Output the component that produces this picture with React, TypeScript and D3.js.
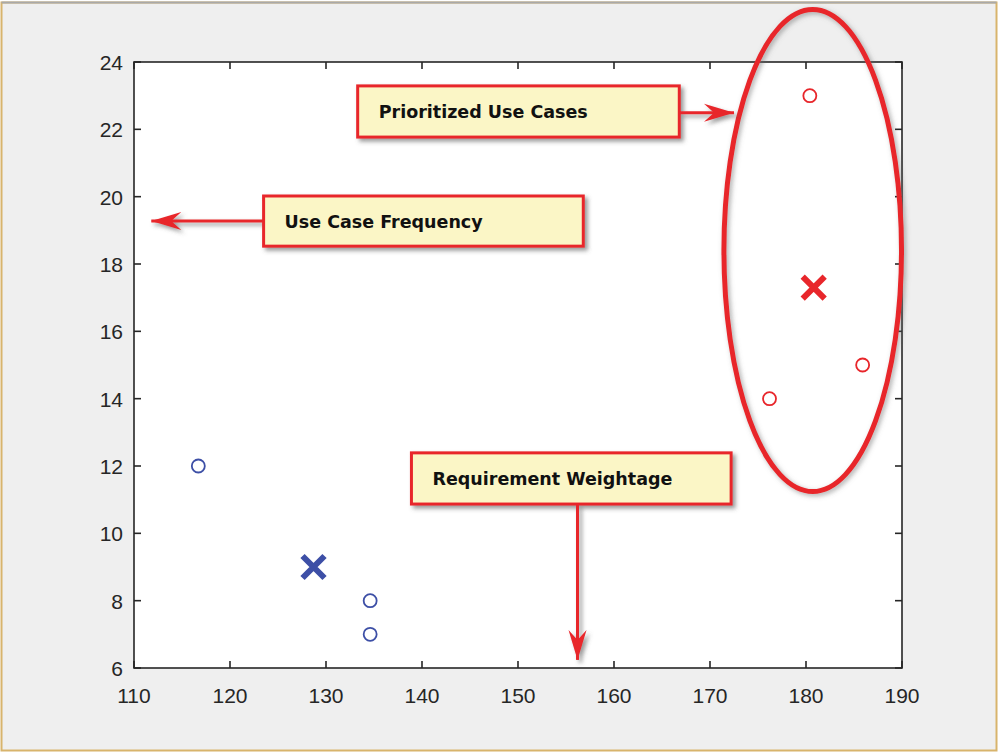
import React from 'react';
import * as d3 from 'd3';

// cluster members (x = requirement weightage, y = use case frequency)
const groupAX = [116.7, 134.6, 134.6];
const groupAY = [12, 8, 7];
const groupBX = [176.2, 180.4, 185.9];
const groupBY = [14, 23, 15];
// cluster centroids
const centroidX = [128.7, 180.8];
const centroidY = [9, 17.3];
const centroidColor = ['#3d4fa6', '#e8262b'];

const xTicks = [110, 120, 130, 140, 150, 160, 170, 180, 190];
const yTicks = [6, 8, 10, 12, 14, 16, 18, 20, 22, 24];

// callout boxes, in data units: [x0, x1, yTop, yBottom]
const callouts = [
  { text: 'Prioritized Use Cases', box: [133.3, 166.8, 23.29, 21.77], arrow: [166.8, 22.49, 172.5, 22.49] },
  { text: 'Use Case Frequency', box: [123.5, 156.8, 20.02, 18.53], arrow: [123.5, 19.28, 111.8, 19.28] },
  { text: 'Requirement Weightage', box: [138.9, 172.2, 12.39, 10.87], arrow: [156.2, 10.87, 156.2, 6.24] },
];
// highlight ellipse: cx, cy, rx, ry (data units)
const ring = [180.7, 18.4, 9.25, 7.16];

const W = 1001, H = 755;
const margin = { top: 62, right: 99, bottom: 87, left: 134 };

export default function App() {
  const x = d3.scaleLinear().domain([110, 190]).range([margin.left, W - margin.right]);
  const y = d3.scaleLinear().domain([6, 24]).range([H - margin.bottom, margin.top]);
  const [x0, x1] = x.range();
  const [yb, yt] = y.range();
  const red = '#e8262b';
  const blue = '#3d4fa6';
  const tickLen = 7;

  const arrowHead = (tx: number, ty: number, fx: number, fy: number) => {
    const a = Math.atan2(ty - fy, tx - fx);
    const L = 30, hw = 9, notch = 20;
    const pt = (d: number, s: number) => [tx - d * Math.cos(a) - s * Math.sin(a), ty - d * Math.sin(a) + s * Math.cos(a)];
    const p = [[tx, ty], pt(L, hw), pt(notch, 0), pt(L, -hw)];
    return 'M' + p.map(q => q.join(',')).join('L') + 'Z';
  };

  const xMark = (cx: number, cy: number, r: number) => `M${cx - r},${cy - r}L${cx + r},${cy + r}M${cx - r},${cy + r}L${cx + r},${cy - r}`;

  return (
    <svg width={W} height={H} style={{ position: 'absolute', left: 0, top: 0 }} fontFamily="'Liberation Sans', Arial, sans-serif">
      <defs>
        <filter id="shadow" x="-20%" y="-20%" width="140%" height="140%">
          <feDropShadow dx="3" dy="3" stdDeviation="2" floodColor="#555" floodOpacity="0.6" />
        </filter>
        <filter id="glow" x="-20%" y="-20%" width="140%" height="140%">
          <feDropShadow dx="2" dy="2" stdDeviation="2.5" floodColor="#666" floodOpacity="0.55" />
        </filter>
      </defs>
      <rect x={0} y={0} width={W} height={H} fill="#fff" />
      <rect x={1.5} y={2.5} width={995} height={748} fill="#efefef" stroke="#d8b46c" strokeWidth={2} />
      <line x1={1.5} x2={996.5} y1={2.5} y2={2.5} stroke="#a9a9a9" strokeWidth={2} />

      {/* axes box */}
      <rect x={x0} y={yt} width={x1 - x0} height={yb - yt} fill="#fff" stroke="#262626" strokeWidth={1.6} />
      {xTicks.map(t => (
        <g key={'x' + t}>
          <line x1={x(t)} x2={x(t)} y1={yb} y2={yb - tickLen} stroke="#262626" strokeWidth={1.6} />
          <line x1={x(t)} x2={x(t)} y1={yt} y2={yt + tickLen} stroke="#262626" strokeWidth={1.6} />
          <text x={x(t)} y={yb + 35} textAnchor="middle" fontSize={21} fill="#262626">{t}</text>
        </g>
      ))}
      {yTicks.map(t => (
        <g key={'y' + t}>
          <line x1={x0} x2={x0 + tickLen} y1={y(t)} y2={y(t)} stroke="#262626" strokeWidth={1.6} />
          <line x1={x1} x2={x1 - tickLen} y1={y(t)} y2={y(t)} stroke="#262626" strokeWidth={1.6} />
          <text x={x0 - 11} y={y(t) + 8} textAnchor="end" fontSize={21} fill="#262626">{t}</text>
        </g>
      ))}

      {/* members */}
      {groupAX.map((v, i) => (
        <circle key={'a' + i} cx={x(v)} cy={y(groupAY[i])} r={6.5} fill="none" stroke={blue} strokeWidth={1.8} />
      ))}
      {groupBX.map((v, i) => (
        <circle key={'b' + i} cx={x(v)} cy={y(groupBY[i])} r={6.5} fill="none" stroke={red} strokeWidth={1.8} />
      ))}
      {centroidX.map((v, i) => (
        <path key={'c' + i} d={xMark(x(v), y(centroidY[i]), 11)} stroke={centroidColor[i]} strokeWidth={6} fill="none" />
      ))}

      {/* highlight ring */}
      <ellipse cx={x(ring[0])} cy={y(ring[1])} rx={x(ring[0] + ring[2]) - x(ring[0])} ry={y(ring[1]) - y(ring[1] + ring[3])}
        fill="none" stroke={red} strokeWidth={5} filter="url(#glow)" />

      {/* callouts */}
      {callouts.map(c => {
        const [bx0, bx1, by0, by1] = c.box;
        const [ax0, ay0, ax1, ay1] = c.arrow;
        return (
          <g key={c.text}>
            <g filter="url(#shadow)">
              <line x1={x(ax0)} y1={y(ay0)} x2={x(ax1)} y2={y(ay1)} stroke={red} strokeWidth={3} />
              <path d={arrowHead(x(ax1), y(ay1), x(ax0), y(ay0))} fill={red} />
              <rect x={x(bx0)} y={y(by0)} width={x(bx1) - x(bx0)} height={y(by1) - y(by0)} fill="#fbf6c6" stroke={red} strokeWidth={3} />
            </g>
            <text x={x(bx0) + 21} y={y(by0) + 32} fontSize={17.5} fontWeight="bold" fill="#111"
              fontFamily="'DejaVu Sans', Verdana, sans-serif">{c.text}</text>
          </g>
        );
      })}
    </svg>
  );
}
